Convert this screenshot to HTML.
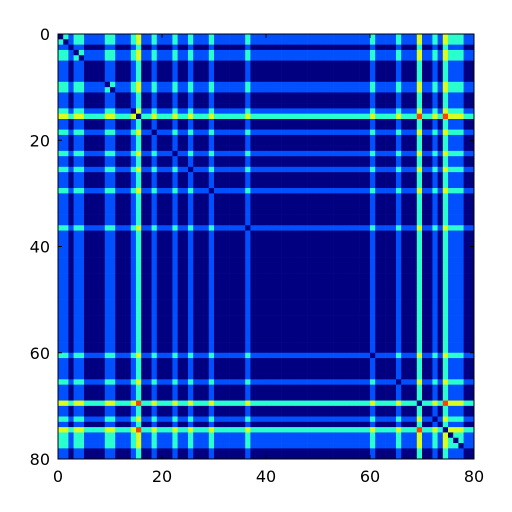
<!DOCTYPE html>
<html><head><meta charset="utf-8"><style>
html,body{margin:0;padding:0;background:#fff;width:512px;height:512px;overflow:hidden}
svg text{font-family:"DejaVu Sans","Liberation Sans",sans-serif;font-size:16px;fill:#000}
</style></head><body>
<svg id="chart" width="512" height="512" xmlns="http://www.w3.org/2000/svg">
<g id="cells"></g>
<g id="axes"></g>
</svg>
<script>
const N = 80;
const level1Indices = [0,1,3,4,9,10,14,18,22,25,29,36,60,65,72,75,76,77];
const level2Indices = [15,69,74];
const palette = ["#000080","#0050ff","#29ffce","#d8ff20","#ff4000"];
const xTicks = [0,20,40,60,80];
const yTicks = [0,20,40,60,80];

const X0=58, X1=474, Y0=34, Y1=459;
const sx = v => X0 + (X1-X0)*v/N;
const sy = v => Y0 + (Y1-Y0)*v/N;
const NS="http://www.w3.org/2000/svg";
const level = new Array(N).fill(0);
level1Indices.forEach(i=>level[i]=1);
level2Indices.forEach(i=>level[i]=2);
const cells=document.getElementById('cells');
for(let i=0;i<N;i++){for(let j=0;j<N;j++){
  const v = i===j?0:level[i]+level[j];
  const r=document.createElementNS(NS,'rect');
  r.setAttribute('x',sx(j));r.setAttribute('y',sy(i));
  r.setAttribute('width',sx(j+1)-sx(j)+0.3);r.setAttribute('height',sy(i+1)-sy(i)+0.3);
  r.setAttribute('fill',palette[Math.min(v,palette.length-1)]);
  
  
  cells.appendChild(r);
}}
const axes=document.getElementById('axes');
const frame=document.createElementNS(NS,'rect');
frame.setAttribute('x',X0);frame.setAttribute('y',Y0);frame.setAttribute('width',X1-X0);frame.setAttribute('height',Y1-Y0);
frame.setAttribute('fill','none');frame.setAttribute('stroke','#000');


axes.appendChild(frame);
xTicks.forEach(t=>{
  const x=sx(t);
  [[Y1,Y1-4],[Y0,Y0+4]].forEach(([a,b])=>{
    const l=document.createElementNS(NS,'line');
    l.setAttribute('x1',x);l.setAttribute('x2',x);l.setAttribute('y1',a);l.setAttribute('y2',b);l.setAttribute('stroke','#000');
    
    
    axes.appendChild(l);
  });
  const tx=document.createElementNS(NS,'text');
  tx.setAttribute('x',x);tx.setAttribute('y',Y1+23);tx.setAttribute('text-anchor','middle');
  tx.textContent=t;
  
  
  axes.appendChild(tx);
});
yTicks.forEach(t=>{
  const y=sy(t);
  [[X0,X0+4],[X1,X1-4]].forEach(([a,b])=>{
    const l=document.createElementNS(NS,'line');
    l.setAttribute('y1',y);l.setAttribute('y2',y);l.setAttribute('x1',a);l.setAttribute('x2',b);l.setAttribute('stroke','#000');
    
    
    axes.appendChild(l);
  });
  const tx=document.createElementNS(NS,'text');
  tx.setAttribute('x',X0-8);tx.setAttribute('y',y+6);tx.setAttribute('text-anchor','end');
  tx.textContent=t;
  
  
  axes.appendChild(tx);
});
</script>
</body></html>
